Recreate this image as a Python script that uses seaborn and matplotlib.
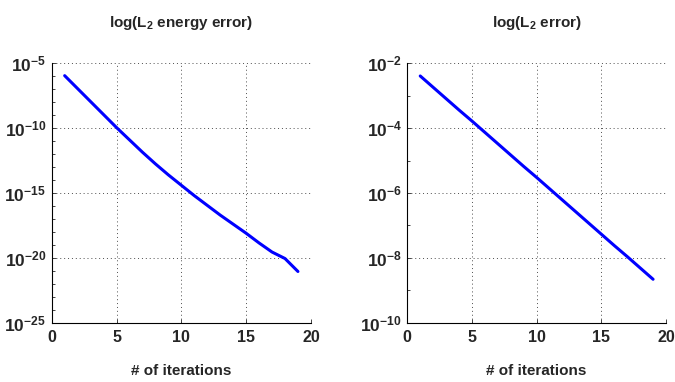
import numpy as np
import pandas as pd
import matplotlib
matplotlib.use("Agg")
import matplotlib.pyplot as plt
import matplotlib.ticker as mticker
import seaborn as sns

iterations = list(range(1, 20))
log_energy_err = [-5.95, -6.95, -7.95, -8.95, -9.95, -10.9, -11.85, -12.75, -13.6, -14.4,
                  -15.2, -15.95, -16.7, -17.4, -18.1, -18.85, -19.55, -20.05, -21.05]
log_l2_err = [-2.39, -2.74, -3.09, -3.44, -3.78, -4.13, -4.48, -4.83, -5.18, -5.52,
              -5.87, -6.22, -6.57, -6.92, -7.27, -7.62, -7.96, -8.31, -8.66]
titles = ["log(L$_\\mathbf{2}$ energy error)", "log(L$_\\mathbf{2}$ error)"]
xlabel = "# of iterations"
left_yticks = [-25, -20, -15, -10, -5]
right_yticks = [-10, -8, -6, -4, -2]
xticks = [0, 5, 10, 15, 20]

sns.set_style("ticks")
plt.rcParams["font.family"] = ["Liberation Sans", "DejaVu Sans"]
plt.rcParams["font.weight"] = "bold"
plt.rcParams["mathtext.fontset"] = "custom"
plt.rcParams["mathtext.rm"] = "Liberation Sans:weight=bold"
plt.rcParams["mathtext.it"] = "Liberation Sans:weight=bold"
plt.rcParams["mathtext.bf"] = "Liberation Sans:weight=bold"
plt.rcParams["mathtext.sf"] = "Liberation Sans:weight=bold"
plt.rcParams["mathtext.default"] = "bf"

fig = plt.figure(figsize=(6.75, 3.82), dpi=100)
ax1 = fig.add_axes([0.0766, 0.1552, 0.384, 0.679])
ax2 = fig.add_axes([0.6034, 0.1552, 0.3833, 0.679])

df1 = pd.DataFrame({"it": iterations, "err": [10.0 ** v for v in log_energy_err]})
df2 = pd.DataFrame({"it": iterations, "err": [10.0 ** v for v in log_l2_err]})

for ax, df, title, yt in [(ax1, df1, titles[0], left_yticks), (ax2, df2, titles[1], right_yticks)]:
    sns.lineplot(data=df, x="it", y="err", ax=ax, color=(0, 0, 1), linewidth=2.2)
    ax.set_yscale("log")
    ax.set_xlim(0, 20)
    ax.set_ylim(10.0 ** yt[0], 10.0 ** yt[-1])
    ax.set_xticks(xticks)
    ax.set_yticks([10.0 ** v for v in yt])
    ax.set_yticklabels([f"$\\mathbf{{10^{{{v}}}}}$" for v in yt])
    ax.yaxis.set_minor_locator(mticker.LogLocator(base=10, subs=(1.0,), numticks=50))
    ax.yaxis.set_minor_formatter(mticker.NullFormatter())
    ax.grid(True, which="major", linestyle=(0, (1, 3)), color="0.3", linewidth=0.7)
    ax.tick_params(axis="x", which="major", direction="in", length=3, width=0.6,
                   labelsize=11.5, pad=5)
    ax.tick_params(axis="y", which="major", direction="in", length=3, width=0.6,
                   labelsize=12.5, pad=4)
    ax.tick_params(axis="y", which="minor", direction="in", length=2, width=0.6)
    for lbl in ax.get_xticklabels() + ax.get_yticklabels():
        lbl.set_fontweight("bold")
    for s in ["top", "right"]:
        ax.spines[s].set_visible(False)
    for s in ["left", "bottom"]:
        ax.spines[s].set_linewidth(0.8)
        ax.spines[s].set_color("black")
    ax.set_title(title, fontsize=11, fontweight="bold", y=1.156, va="center", pad=0)
    ax.set_xlabel(xlabel, fontsize=11, fontweight="bold", labelpad=14)
    ax.set_ylabel("")

fig.savefig("out.png", dpi=100)
